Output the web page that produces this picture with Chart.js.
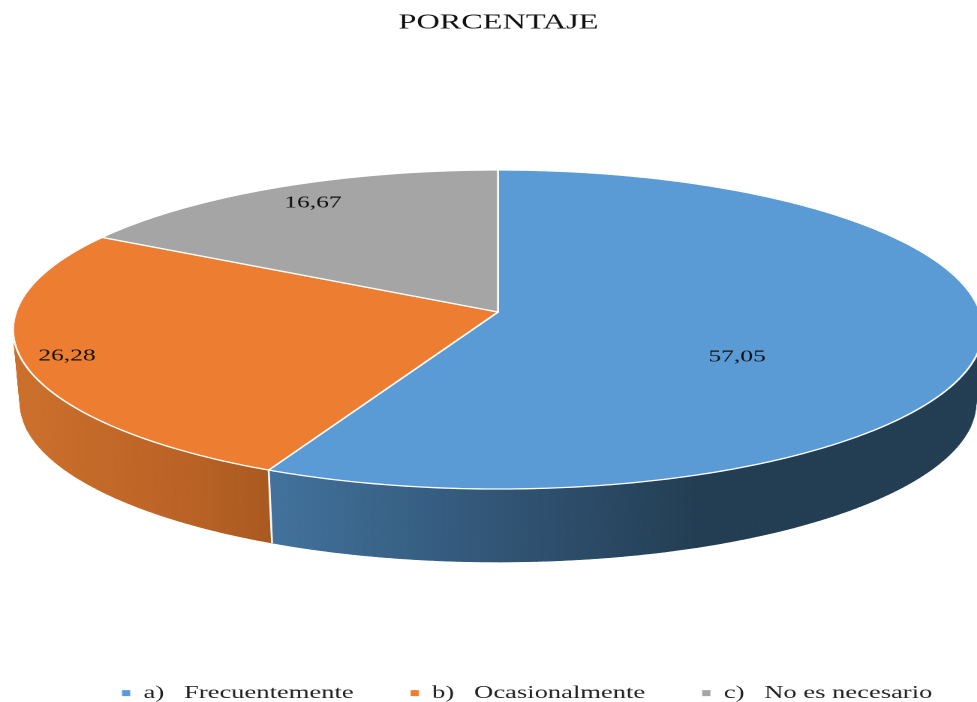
<!DOCTYPE html>
<html><head><meta charset="utf-8">
<style>
html,body{margin:0;padding:0;background:#fff;overflow:hidden;width:977px;height:702px}
#wrap{width:651px;height:702px;transform-origin:0 0;transform:scaleX(1.5008)}
</style>
<script src="https://cdn.jsdelivr.net/npm/chart.js@4"></script>
</head><body>
<div id="wrap"><canvas id="c" width="651" height="702"></canvas></div>
<script>
const titleText = 'PORCENTAJE';
const categories = ['a)   Frecuentemente', 'b)   Ocasionalmente', 'c)   No es necesario'];
const values = [57.05, 26.28, 16.67];
const colors = ['#5b9bd5', '#ed7d31', '#a5a5a5'];
const wallStops = [['#42729c', '#2e4f6d', '#233e53'], ['#cc702c', '#bb6326', '#a95a20'], ['#8a8a8a', '#8a8a8a', '#8a8a8a']];
const labelSpots = [[737, 357], [67, 356], [313, 203]];
const SX = 977 / 651;
const view = {cx: 498, top: 312, a: 482, b: 157.6, k: -0.1097, depth: 73, aLow: 475};

function pt(phi, low) {
  const u = Math.cos(phi), v = Math.sin(phi), w = 1 + view.k * v;
  const a = low ? view.aLow : view.a, y0 = view.top + (low ? view.depth : 0);
  return [(view.cx + a * u / w) / SX, y0 + view.b * v / w];
}
function curve(ctx, s, e, low, join) {
  const n = Math.max(8, Math.ceil(Math.abs(e - s) * 90));
  for (let i = 0; i <= n; i++) {
    const p = pt(s + (e - s) * i / n, low);
    if (i === 0 && !join) ctx.moveTo(p[0], p[1]); else ctx.lineTo(p[0], p[1]);
  }
}
const pie3d = {
  id: 'pie3d',
  afterLayout(chart) {
    const lg = chart.legend;
    lg.top += 10; lg.bottom += 10; lg.right += 8.7;
    lg.lineWidths[0] += 0.5;
  },
  beforeDatasetDraw(chart, args) {
    const ctx = chart.ctx, arcs = args.meta.data;
    ctx.save();
    arcs.forEach((arc, i) => {
      const {startAngle: s, endAngle: e} = arc.getProps(['startAngle', 'endAngle'], true);
      const g = ctx.createLinearGradient(i === 0 ? 272 / SX : 14 / SX, 0, i === 0 ? 700 / SX : 272 / SX, 0);
      g.addColorStop(0, wallStops[i][0]);
      g.addColorStop(0.65, wallStops[i][1]);
      g.addColorStop(1, wallStops[i][2]);
      ctx.fillStyle = g; ctx.strokeStyle = g; ctx.lineWidth = 0.6;
      const n = Math.ceil((e - s) * 60);
      for (let j = 0; j < n; j++) {
        const p0 = s + (e - s) * j / n, p1 = s + (e - s) * (j + 1) / n;
        const q = [pt(p0, false), pt(p1, false), pt(p1, true), pt(p0, true)];
        ctx.beginPath();
        q.forEach((p, m) => m ? ctx.lineTo(p[0], p[1]) : ctx.moveTo(p[0], p[1]));
        ctx.closePath();
        ctx.fill();
        ctx.stroke();
      }
    });
    arcs.forEach((arc) => {
      const e = arc.getProps(['endAngle'], true).endAngle;
      if (Math.sin(e) > 0) {
        const a = pt(e, false), b = pt(e, true);
        ctx.beginPath(); ctx.moveTo(a[0], a[1]); ctx.lineTo(b[0], b[1]);
        ctx.strokeStyle = '#fff'; ctx.lineWidth = 1.3; ctx.stroke();
      }
    });
    arcs.forEach((arc, i) => {
      const {startAngle: s, endAngle: e} = arc.getProps(['startAngle', 'endAngle'], true);
      ctx.beginPath();
      ctx.moveTo(view.cx / SX, view.top);
      curve(ctx, s, e, false, true);
      ctx.closePath();
      ctx.fillStyle = colors[i];
      ctx.fill();
      ctx.strokeStyle = '#fff'; ctx.lineWidth = 1.3; ctx.lineJoin = 'round';
      ctx.stroke();
    });
    ctx.fillStyle = '#111';
    ctx.font = '17px "Liberation Serif"';
    ctx.textAlign = 'center'; ctx.textBaseline = 'middle';
    values.forEach((val, i) => {
      ctx.fillText(val.toFixed(2).replace('.', ','), labelSpots[i][0] / SX, labelSpots[i][1]);
    });
    ctx.restore();
    return false;
  }
};
new Chart(document.getElementById('c'), {
  type: 'pie',
  data: {labels: categories, datasets: [{data: values, backgroundColor: colors, borderWidth: 0}]},
  options: {
    responsive: false,
    animation: false,
    devicePixelRatio: 2,
    layout: {padding: {left: 13.3, right: 0, top: 0, bottom: 0}},
    plugins: {
      tooltip: {enabled: false},
      title: {display: true, text: titleText, color: '#111',
        font: {family: '"Liberation Serif"', size: 21.5, weight: 'normal'},
        padding: {top: 10, bottom: 10}},
      legend: {position: 'bottom', align: 'end',
        labels: {boxWidth: 5.5, boxHeight: 6, padding: 38, color: '#222',
          font: {family: '"Liberation Serif"', size: 17.7}}}
    }
  },
  plugins: [pie3d]
});
</script>
</body></html>
